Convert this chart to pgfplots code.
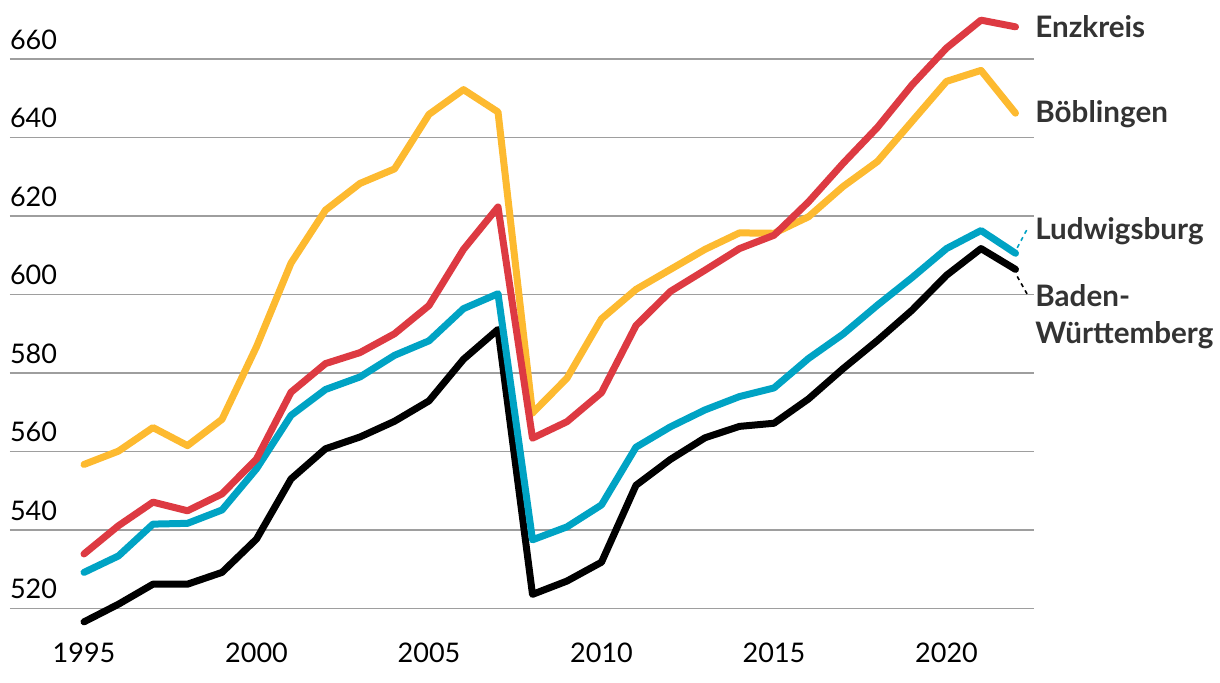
\documentclass[border=0pt]{standalone}
\usepackage{pgfplots}
\pgfplotsset{compat=1.18}
\usepackage{fontspec}
\setmainfont{Lato}
\definecolor{enzred}{RGB}{221,58,66}
\definecolor{boeyel}{RGB}{253,186,48}
\definecolor{ludblue}{RGB}{0,163,196}
\definecolor{labelgray}{RGB}{51,51,51}

% year, Baden-Wuerttemberg, Ludwigsburg, Enzkreis, Boeblingen
\pgfplotstableread{
year bw   lud   enz   boe
1995 516.6 529.2 533.9 556.7
1996 521.1 533.4 541.1 560.1
1997 526.2 541.5 547.1 566.1
1998 526.2 541.7 544.9 561.5
1999 529.2 545.1 549.2 568.2
2000 537.7 555.6 558.1 586.7
2001 553.0 569.2 575.1 608.0
2002 560.7 575.8 582.4 621.5
2003 563.7 579.0 585.2 628.3
2004 567.7 584.5 590.0 632.0
2005 572.9 588.2 597.2 645.9
2006 583.5 596.4 611.5 652.2
2007 591.1 600.2 622.3 646.5
2008 523.6 537.5 563.4 569.8
2009 527.0 540.8 567.6 578.7
2010 531.8 546.4 575.0 593.8
2011 551.4 561.1 592.1 601.3
2012 558.0 566.3 600.8 606.4
2013 563.5 570.6 606.2 611.5
2014 566.4 574.0 611.7 615.7
2015 567.2 576.2 615.1 615.6
2016 573.4 583.7 623.6 619.8
2017 581.1 589.9 633.4 627.5
2018 588.3 597.3 642.6 633.9
2019 596.0 604.3 653.4 644.1
2020 604.9 611.7 662.8 654.3
2021 611.7 616.3 669.9 657.1
2022 606.4 610.5 668.2 646.2
}\datatable

\begin{document}
\begin{tikzpicture}
\begin{axis}[
    scale only axis,
    width=512pt, height=274.75pt,
    xmin=1992.855, xmax=2022.536,
    ymin=520, ymax=660,
    clip=false,
    axis line style={draw=none},
    tick style={draw=none},
    major tick length=0pt,
    xtick={1995,2000,...,2020},
    ytick={520,540,...,660},
    ymajorgrids,
    grid style={color=black!38, line width=0.65pt},
    /pgf/number format/1000 sep={},
    /pgf/number format/assume math mode=true,
    tick label style={font=\fontsize{13.5}{16}\selectfont, text=black},
    xticklabel style={anchor=base, yshift=-26.75pt},
    yticklabel style={anchor=base west, xshift=-3.5pt, yshift=5pt},
    every axis plot/.append style={line width=3.5pt, line cap=round, line join=round},
]
\addplot[black] table[x=year, y=bw] {\datatable};
\addplot[ludblue] table[x=year, y=lud] {\datatable};
\addplot[boeyel] table[x=year, y=boe] {\datatable};
\addplot[enzred] table[x=year, y=enz] {\datatable};

% leader lines
\draw[ludblue, line width=0.8pt, dash pattern=on 2pt off 2pt] (axis cs:2022.05,611.9) -- (axis cs:2022.37,617.2);
\draw[black, line width=0.8pt, dash pattern=on 2pt off 2pt] (axis cs:2022.05,604.6) -- (axis cs:2022.37,599.6);

\begin{scope}[every node/.style={anchor=base west, inner sep=0pt, text=labelgray, font=\fontsize{14.8}{17}\selectfont\bfseries}]
\node at (axis cs:2022.565,665.4) {Enzkreis};
\node at (axis cs:2022.565,643.7) {Böblingen};
\node at (axis cs:2022.565,613.9) {Ludwigsburg};
\node at (axis cs:2022.565,596.9) {Baden-};
\node at (axis cs:2022.565,587.6) {Württemberg};
\end{scope}
\end{axis}
\path[use as bounding box] ([xshift=-5pt,yshift=-36.75pt]current axis.south west) rectangle ([xshift=93pt,yshift=29.5pt]current axis.north east);
\end{tikzpicture}
\end{document}
